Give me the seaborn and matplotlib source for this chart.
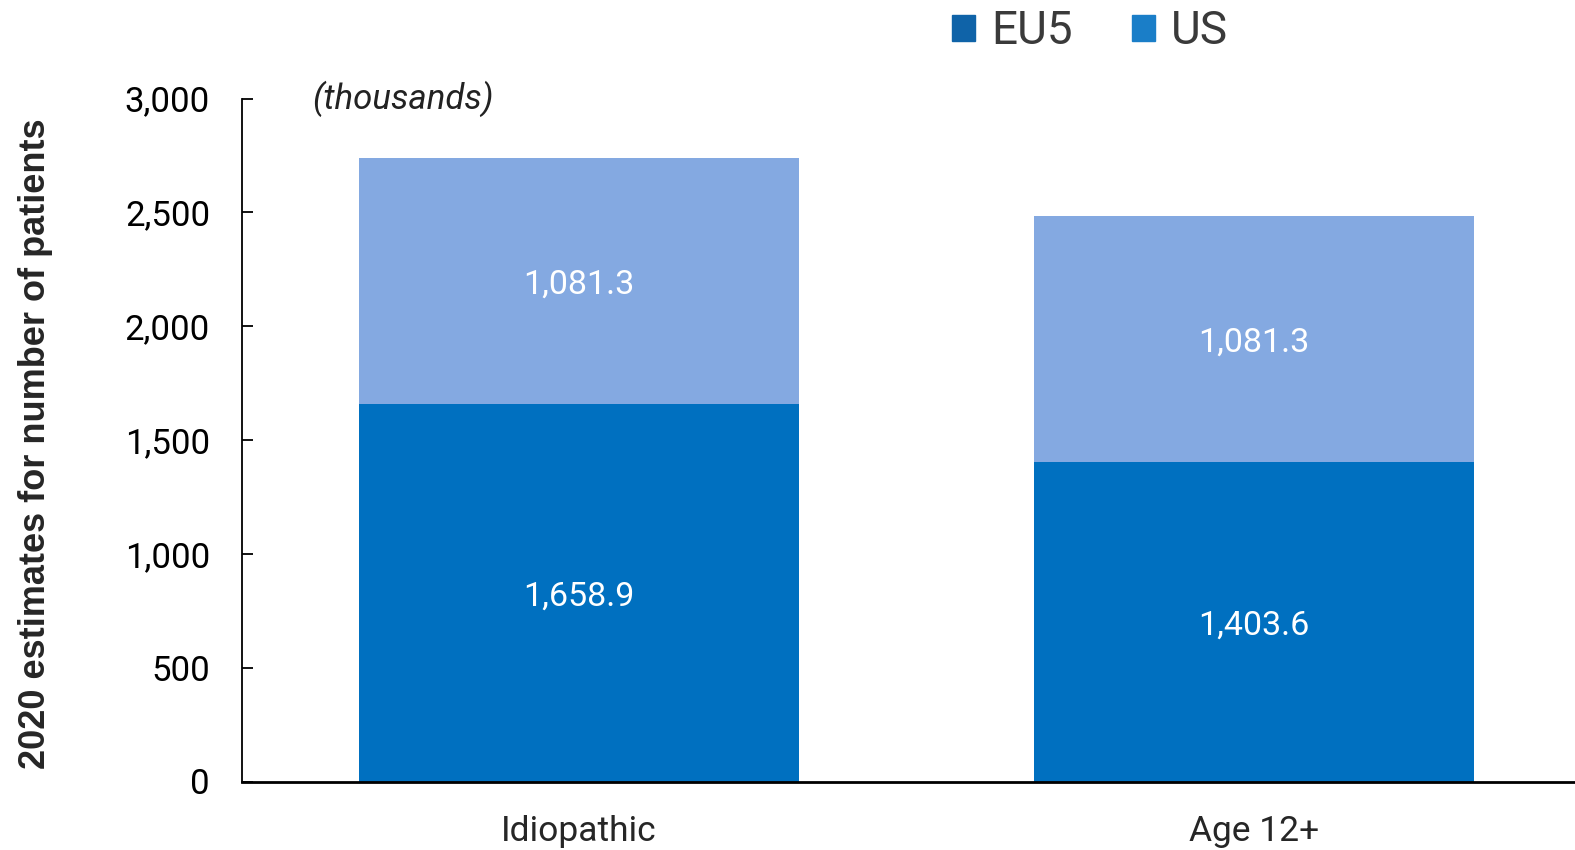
import matplotlib
matplotlib.use("Agg")
import matplotlib.pyplot as plt
import matplotlib.patches as mpatches
from matplotlib.ticker import FuncFormatter
import pandas as pd
import seaborn as sns

# data (thousands of patients)
categories = ["Idiopathic", "Age 12+"]
eu5 = [1658.9, 1403.6]
us = [1081.3, 1081.3]

bottom_color = "#0070c0"
top_color = "#84a9e1"

sns.set_style("white")
plt.rcParams["font.family"] = ["Roboto", "DejaVu Sans"]

df = pd.DataFrame({"category": categories, "EU5": eu5, "US": us})
df["total"] = df["EU5"] + df["US"]

fig = plt.figure(figsize=(15.75, 8.5), dpi=100)
ax = fig.add_axes([242 / 1575, 68.5 / 850, 1333 / 1575, 683 / 850])

# stacked bars: total first, bottom segment drawn on top of it
sns.barplot(data=df, x="category", y="total", color=top_color, width=0.653,
            saturation=1, ax=ax, linewidth=0)
sns.barplot(data=df, x="category", y="EU5", color=bottom_color, width=0.653,
            saturation=1, ax=ax, linewidth=0)

# value labels centred in each segment
for i, row in df.iterrows():
    ax.text(i, row["EU5"] / 2, f"{row['EU5']:,.1f}", ha="center",
            va="center_baseline", color="white", fontsize=24.5)
    ax.text(i, row["EU5"] + row["US"] / 2, f"{row['US']:,.1f}", ha="center",
            va="center_baseline", color="white", fontsize=24.5)

ax.set_ylim(0, 3000)
ax.set_xlim(-0.4993, 1.4756)
ax.set_yticks(range(0, 3001, 500))
ax.yaxis.set_major_formatter(FuncFormatter(lambda v, p: f"{int(v):,}"))
ax.tick_params(axis="y", direction="in", length=8, width=1.3, pad=23,
               labelsize=25, left=True, colors="black")
ax.tick_params(axis="x", length=0, pad=24, labelsize=25.5)

for s in ["top", "right"]:
    ax.spines[s].set_visible(False)
ax.spines["left"].set_linewidth(1.3)
ax.spines["bottom"].set_linewidth(2)
ax.spines["left"].set_color("black")
ax.spines["bottom"].set_color("black")

ax.set_xlabel("")
ax.set_ylabel("2020 estimates for number of patients", fontsize=26,
              fontweight="bold", family=["Liberation Sans", "DejaVu Sans"])
ax.yaxis.set_label_coords(-0.1415, 0.494)

ax.text(0.053, 1.0, "(thousands)", transform=ax.transAxes, fontsize=25,
        style="italic", ha="left", va="center", color="#222222")

handles = [mpatches.Patch(color="#0f63a8", label="EU5"),
           mpatches.Patch(color="#1a7ec8", label="US")]
fig.legend(handles=handles, loc="center", bbox_to_anchor=(1090 / 1575, 1 - 31 / 850),
           ncol=2, frameon=False, fontsize=33, handlelength=0.5, handleheight=0.5,
           handletextpad=0.35, columnspacing=1.3, labelcolor="#3a3a3a")

fig.savefig("out.png", dpi=100)
plt.close(fig)
